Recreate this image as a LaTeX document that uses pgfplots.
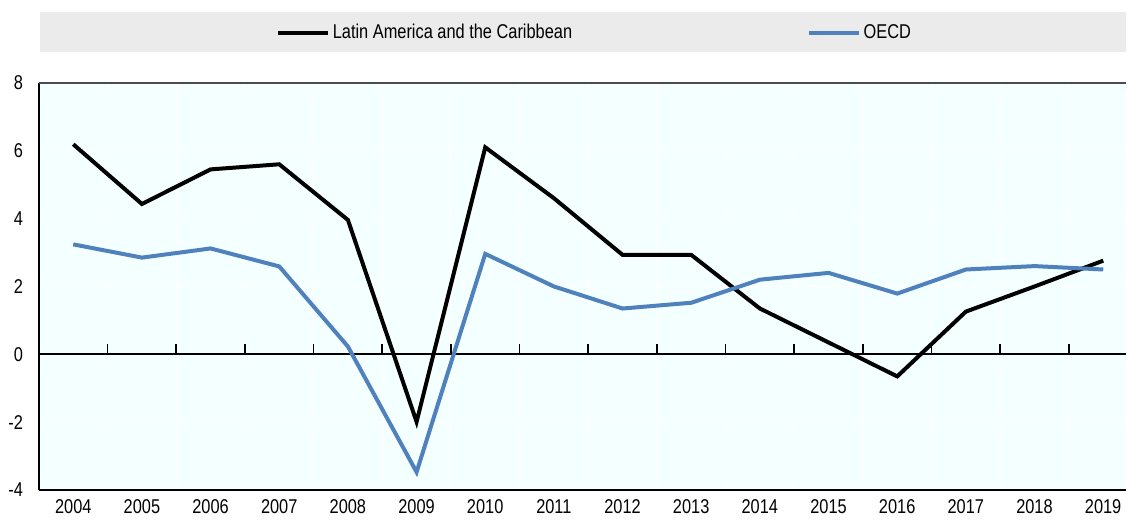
\documentclass[border=0pt]{standalone}
\usepackage{fontspec}
\setmainfont[FakeStretch=0.82]{Liberation Sans}
\usepackage{pgfplots}
\pgfplotsset{compat=1.18}
\definecolor{bgc}{HTML}{F4FFFF}
\definecolor{legbg}{HTML}{EBEBEB}
\definecolor{oecd}{HTML}{4F81BD}
\begin{document}
\begin{tikzpicture}
\begin{axis}[
  at={(0pt,0pt)}, anchor=south west,
  scale only axis, width=544.5pt, height=204pt,
  xmin=2003.5, xmax=2019.33, ymin=-4, ymax=8,
  axis x line*=bottom, axis y line*=left,
  axis line style={-, black, line width=1pt},
  axis background/.style={fill=bgc},
  xtick={2004,...,2019},
  minor xtick={2004.5,...,2018.5},
  ytick={-4,-2,...,8},
  major tick length=0pt, minor tick length=0pt,
  ymajorgrids, xminorgrids,
  major grid style={white, line width=0.6pt},
  minor grid style={white, line width=0.6pt},
  /pgf/number format/assume math mode=true,
  /pgf/number format/1000 sep={},
  tick label style={font=\fontsize{10}{11}\selectfont, black},
  yticklabel style={xshift=-4.5pt},
  xticklabel style={yshift=-1pt},
  clip=false,
  legend columns=2,
  legend style={at={(0.5115,1.1222)}, anchor=center, draw=none, fill=none,
    font=\fontsize{10}{11}\selectfont, /tikz/every even column/.append style={column sep=116pt},
    nodes={inner sep=1.5pt}},
  legend image code/.code={\draw[#1] (0pt,0pt) -- (25pt,0pt);},
]
\fill[legbg] (rel axis cs:0.001,1.076) rectangle (rel axis cs:1,1.174);
\draw[black, line width=1pt] (axis cs:2003.5,0) -- (axis cs:2019.33,0);
\draw[gray!60!black, line width=1pt] (rel axis cs:0,1) -- (rel axis cs:1,1);
\addplot[black, line width=2pt] coordinates {
(2004,6.19) (2005,4.43) (2006,5.45) (2007,5.6) (2008,3.96) (2009,-1.99)
(2010,6.1) (2011,4.6) (2012,2.93) (2013,2.93) (2014,1.35) (2015,0.35)
(2016,-0.65) (2017,1.26) (2018,2.0) (2019,2.76)};
\addlegendentry{Latin America and the Caribbean}
\addplot[oecd, line width=2pt] coordinates {
(2004,3.24) (2005,2.85) (2006,3.12) (2007,2.59) (2008,0.23) (2009,-3.47)
(2010,2.96) (2011,2.0) (2012,1.35) (2013,1.52) (2014,2.2) (2015,2.4)
(2016,1.79) (2017,2.5) (2018,2.6) (2019,2.5)};
\addlegendentry{OECD}
\end{axis}
\begin{axis}[
  at={(0pt,0pt)}, anchor=south west,
  scale only axis, width=544.5pt, height=204pt,
  xmin=2003.5, xmax=2019.33, ymin=-4, ymax=8,
  axis x line=middle, axis y line=none,
  axis line style={draw=none},
  xtick={2004.5,...,2018.5}, xticklabels={},
  major tick length=5pt, tick align=inside,
  major tick style={black, line width=0.8pt},
]
\end{axis}
\useasboundingbox (-19.5pt,-12pt) rectangle (544.5pt,245.5pt);
\end{tikzpicture}
\end{document}
